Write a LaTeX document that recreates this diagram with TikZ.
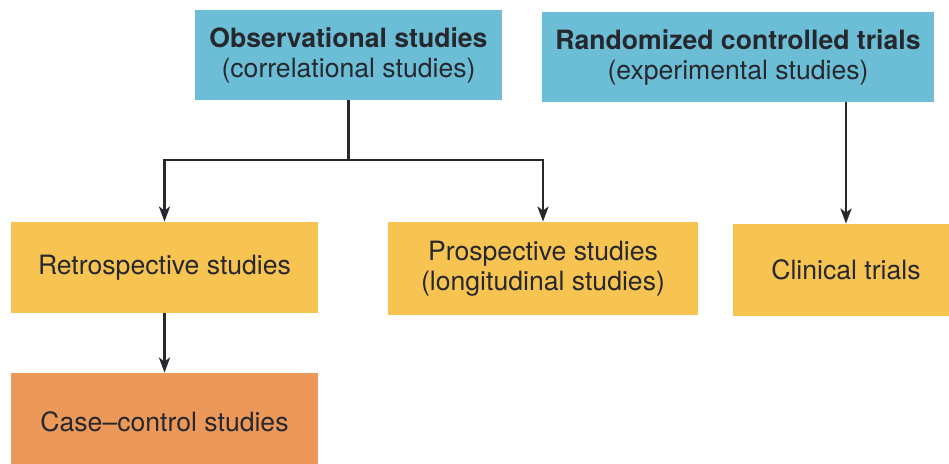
\documentclass[tikz,border=0pt]{standalone}
\usepackage{fontspec}
\setmainfont{TeX Gyre Heros}
\usetikzlibrary{arrows.meta}
\definecolor{studyblue}{RGB}{108,190,214}
\definecolor{studyyellow}{RGB}{247,196,82}
\definecolor{studyorange}{RGB}{236,152,88}
\definecolor{studyink}{RGB}{38,40,46}
\tikzset{
  x=0.5pt, y=-0.5pt,
  studybox/.style={rectangle, inner sep=0pt, align=center, text=studyink,
                   font=\fontsize{13.3}{15}\selectfont},
  bluebox/.style={studybox, fill=studyblue},
  yellowbox/.style={studybox, fill=studyyellow},
  orangebox/.style={studybox, fill=studyorange},
  EdgeStyle/.style={draw=studyink, line width=1.4pt,
                    -{Stealth[length=7.5pt, width=5.5pt, inset=2pt]}}
}

\begin{document}
\begin{tikzpicture}
  \useasboundingbox (0,0) rectangle (949,464);
  \clip (0,0) rectangle (949,464);
  \node[bluebox, minimum width=153.5pt, minimum height=45pt] (OBS) at (348.5,55)
    {\textbf{Observational studies}\\(correlational studies)};
  \node[bluebox, minimum width=196pt, minimum height=45pt] (RCT) at (738,57)
    {\textbf{Randomized controlled trials}\\(experimental studies)};
  \node[yellowbox, minimum width=153.5pt, minimum height=45.5pt] (RETRO) at (164.5,267.5)
    {Retrospective studies};
  \node[yellowbox, minimum width=155pt, minimum height=46.5pt] (PROSP) at (543,268.5)
    {Prospective studies\\(longitudinal studies)};
  \node[yellowbox, minimum width=113pt, minimum height=46pt] (CLIN) at (846,270)
    {Clinical trials};
  \node[orangebox, minimum width=153.5pt, minimum height=49pt] (CASE) at (164.5,422)
    {Case--control studies};
  \coordinate (SPLIT) at (348.5,160);
  \draw[EdgeStyle, -] (OBS.south) -- (SPLIT);
  \draw[EdgeStyle] (SPLIT) -| (RETRO.north);
  \draw[EdgeStyle] (SPLIT) -| (PROSP.north);
  \draw[EdgeStyle] (CLIN.north |- RCT.south) -- (CLIN.north);
  \draw[EdgeStyle] (RETRO.south) -- (CASE.north);
\end{tikzpicture}
\end{document}
